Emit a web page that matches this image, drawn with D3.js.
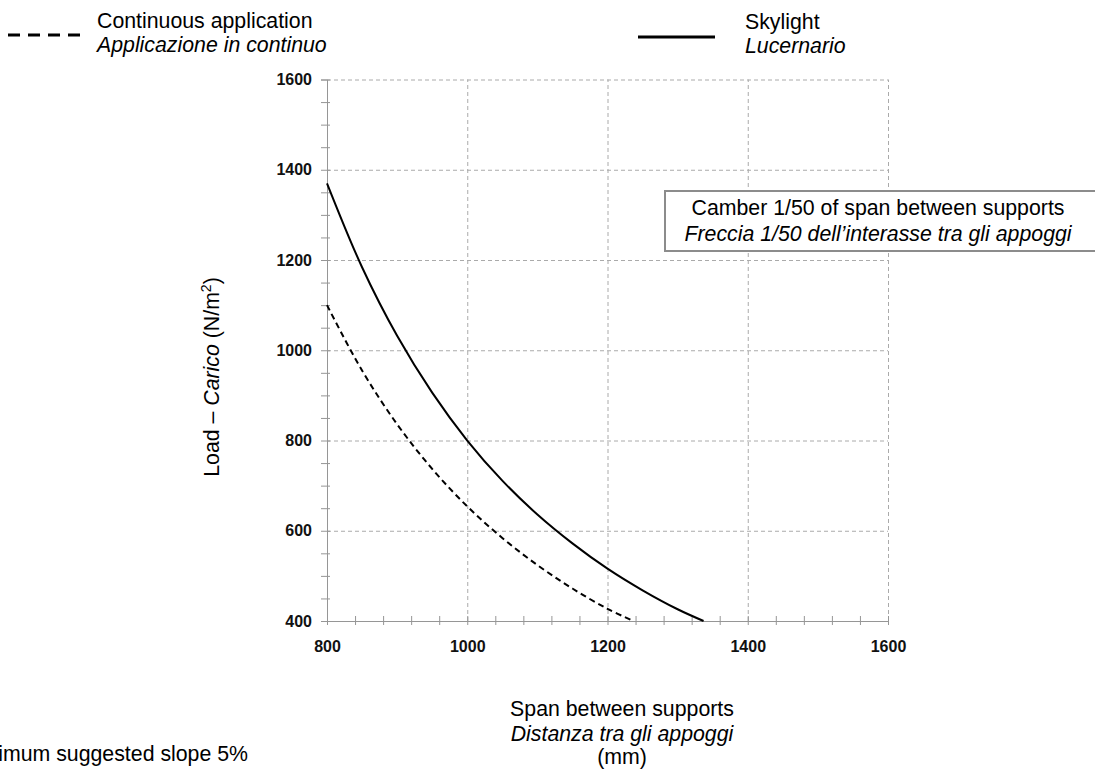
<!DOCTYPE html>
<html>
<head>
<meta charset="utf-8">
<script src="https://cdn.jsdelivr.net/npm/d3@7"></script>
<style>
  body { margin: 0; background: #fff; }
  text { font-family: "Liberation Sans", Arial, sans-serif; }
</style>
</head>
<body>
<div id="wrapper"></div>
<script>
// data
const skylightSpan = [800, 850, 900, 950, 1000, 1050, 1100, 1150, 1200, 1250, 1300, 1337];
const skylightLoad = [1370, 1184, 1032, 906, 800, 711, 636, 572, 516, 468, 426, 400];
const continuousSpan = [800, 850, 900, 950, 1000, 1050, 1100, 1150, 1200, 1237];
const continuousLoad = [1100, 955, 836, 737, 654, 584, 524, 472, 427, 400];
const xTicks = [800, 1000, 1200, 1400, 1600];
const yTicks = [400, 600, 800, 1000, 1200, 1400, 1600];
const xMinorTicks = d3.range(800, 1601, 40);
const yMinorTicks = d3.range(400, 1601, 50);

const width = 1095, height = 769;
const plot = { left: 327, right: 888, top: 79.5, bottom: 621 };

const svg = d3.select("#wrapper").append("svg")
  .attr("width", width).attr("height", height);

const xScale = d3.scaleLinear().domain([800, 1600]).range([plot.left, plot.right]);
const yScale = d3.scaleLinear().domain([400, 1600]).range([plot.bottom, plot.top]);

// gridlines (dashed, major only)
const gridX = svg.append("g")
  .attr("transform", `translate(0,${plot.bottom})`)
  .call(d3.axisBottom(xScale).tickValues(xTicks.slice(1)).tickSize(-(plot.bottom - plot.top)).tickFormat(""));
const gridY = svg.append("g")
  .attr("transform", `translate(${plot.left},0)`)
  .call(d3.axisLeft(yScale).tickValues(yTicks.slice(1)).tickSize(-(plot.right - plot.left)).tickFormat(""));
[gridX, gridY].forEach(g => {
  g.select(".domain").remove();
  g.selectAll("line").attr("stroke", "#aaa").attr("stroke-dasharray", "4,3").attr("stroke-width", 1);
});

// minor ticks crossing the axes
const xAxisMinor = svg.append("g")
  .attr("transform", `translate(0,${plot.bottom})`)
  .call(d3.axisBottom(xScale).tickValues(xMinorTicks).tickSize(4).tickFormat(""));
xAxisMinor.selectAll(".tick line").attr("y1", -5);
const yAxisMinor = svg.append("g")
  .attr("transform", `translate(${plot.left},0)`)
  .call(d3.axisLeft(yScale).tickValues(yMinorTicks).tickSize(6).tickFormat(""));
yAxisMinor.selectAll(".tick line").attr("x1", 3);
[xAxisMinor, yAxisMinor].forEach(g => {
  g.select(".domain").attr("stroke", "#969696");
  g.selectAll("line").attr("stroke", "#969696");
});

// tick labels
const xLabels = svg.append("g")
  .attr("transform", `translate(0,${plot.bottom})`)
  .call(d3.axisBottom(xScale).tickValues(xTicks).tickSize(0).tickPadding(20).tickFormat(d3.format("d")));
const yLabels = svg.append("g")
  .attr("transform", `translate(${plot.left},0)`)
  .call(d3.axisLeft(yScale).tickValues(yTicks).tickSize(0).tickPadding(15).tickFormat(d3.format("d")));
[xLabels, yLabels].forEach(g => {
  g.select(".domain").remove();
  g.selectAll("text").attr("font-family", "Lato, 'Open Sans', sans-serif")
    .attr("font-weight", "bold").attr("font-size", 16).attr("fill", "#111");
});

// curves
const line = d3.line().x(d => xScale(d[0])).y(d => yScale(d[1])).curve(d3.curveCatmullRom);
svg.append("path")
  .attr("d", line(d3.zip(skylightSpan, skylightLoad)))
  .attr("fill", "none").attr("stroke", "#000").attr("stroke-width", 2);
svg.append("path")
  .attr("d", line(d3.zip(continuousSpan, continuousLoad)))
  .attr("fill", "none").attr("stroke", "#000").attr("stroke-width", 2)
  .attr("stroke-dasharray", "6,4");

// legend
const fs = 21.3;
svg.append("line").attr("x1", 8).attr("x2", 85).attr("y1", 35).attr("y2", 35)
  .attr("stroke", "#000").attr("stroke-width", 3).attr("stroke-dasharray", "12,8");
svg.append("text").attr("x", 97).attr("y", 28).attr("font-size", fs).text("Continuous application");
svg.append("text").attr("x", 97).attr("y", 52).attr("font-size", fs).attr("font-style", "italic").text("Applicazione in continuo");

svg.append("line").attr("x1", 638).attr("x2", 715).attr("y1", 37).attr("y2", 37)
  .attr("stroke", "#000").attr("stroke-width", 3);
svg.append("text").attr("x", 745).attr("y", 29).attr("font-size", fs).text("Skylight");
svg.append("text").attr("x", 745).attr("y", 53).attr("font-size", fs).attr("font-style", "italic").text("Lucernario");

// annotation box
svg.append("rect").attr("x", 665).attr("y", 191).attr("width", 432).attr("height", 60)
  .attr("fill", "#fff").attr("stroke", "#8c8c8c").attr("stroke-width", 2);
svg.append("text").attr("x", 878).attr("y", 215).attr("text-anchor", "middle").attr("font-size", fs)
  .text("Camber 1/50 of span between supports");
svg.append("text").attr("x", 878).attr("y", 241).attr("text-anchor", "middle").attr("font-size", fs)
  .attr("font-style", "italic").text("Freccia 1/50 dell\u2019interasse tra gli appoggi");

// y axis title
const yTitle = svg.append("text")
  .attr("transform", "translate(219,377) rotate(-90)")
  .attr("text-anchor", "middle").attr("font-size", fs);
yTitle.append("tspan").text("Load \u2013 ");
yTitle.append("tspan").attr("font-style", "italic").text("Carico");
yTitle.append("tspan").text(" (N/m");
yTitle.append("tspan").attr("font-size", 14).attr("dy", -8).text("2");
yTitle.append("tspan").attr("dy", 8).text(")");

// x axis title
svg.append("text").attr("x", 622).attr("y", 716).attr("text-anchor", "middle").attr("font-size", fs)
  .text("Span between supports");
svg.append("text").attr("x", 622).attr("y", 741).attr("text-anchor", "middle").attr("font-size", fs)
  .attr("font-style", "italic").text("Distanza tra gli appoggi");
svg.append("text").attr("x", 622).attr("y", 764).attr("text-anchor", "middle").attr("font-size", fs)
  .text("(mm)");

// note cut off at the left edge, as in the reference
svg.append("text").attr("x", 248).attr("y", 761).attr("text-anchor", "end").attr("font-size", fs)
  .text("Maximum suggested slope 5%");
</script>
</body>
</html>
